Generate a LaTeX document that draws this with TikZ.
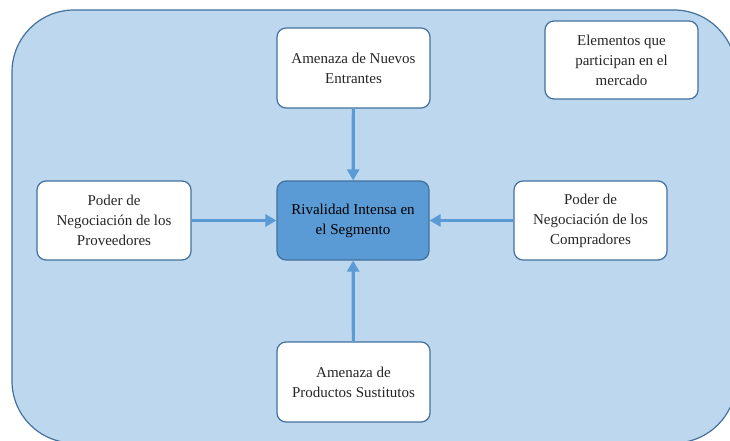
\documentclass[tikz,border=0pt]{standalone}
\usepackage{fontspec}
\setmainfont{Liberation Serif}
\usetikzlibrary{arrows.meta}
\definecolor{panelfill}{HTML}{BDD7EE}
\definecolor{edgeblue}{HTML}{41719C}
\definecolor{corefill}{HTML}{5B9BD5}
\definecolor{arrowblue}{HTML}{5B9BD5}
\tikzset{
  forcebox/.style={draw=edgeblue, line width=1.2pt, fill=white, rounded corners=9pt,
    align=center, inner sep=0pt, font=\fontsize{15}{20}\selectfont, text=black!85},
  corebox/.style={forcebox, fill=corefill, text=black},
  pressure/.style={draw=arrowblue, line width=3.2pt,
    -{Triangle[length=11pt,width=12pt]}}
}
\begin{document}
\begin{tikzpicture}[x=1pt,y=-1pt]
  \useasboundingbox (0,0) rectangle (730,441);
  % market panel
  \begin{scope}
    \clip (0,0) rectangle (730,441);
    \draw[fill=panelfill, draw=edgeblue, line width=1.2pt, rounded corners=62pt]
      (12,10) rectangle (736,443);
  \end{scope}
  % the five forces
  \node[corebox, minimum width=152pt, minimum height=79pt] (rival) at (353,220.5)
    {Rivalidad Intensa en\\el Segmento};
  \node[forcebox, minimum width=153pt, minimum height=80pt] (entrantes) at (353.5,68)
    {Amenaza de Nuevos\\Entrantes};
  \node[forcebox, minimum width=154pt, minimum height=79pt] (proveedores) at (114,220.5)
    {Poder de\\Negociación de los\\Proveedores};
  \node[forcebox, minimum width=153pt, minimum height=79pt] (compradores) at (590.5,220.5)
    {Poder de\\Negociación de los\\Compradores};
  \node[forcebox, minimum width=153pt, minimum height=80pt] (sustitutos) at (353.5,382)
    {Amenaza de\\Productos Sustitutos};
  \node[forcebox, minimum width=153pt, minimum height=78pt] (elementos) at (621.5,60)
    {Elementos que\\participan en el\\mercado};
  % pressures on the rivalry
  \draw[pressure] (entrantes) -- (rival);
  \draw[pressure] (sustitutos) -- (rival);
  \draw[pressure] (proveedores) -- (rival);
  \draw[pressure] (compradores) -- (rival);
\end{tikzpicture}
\end{document}
